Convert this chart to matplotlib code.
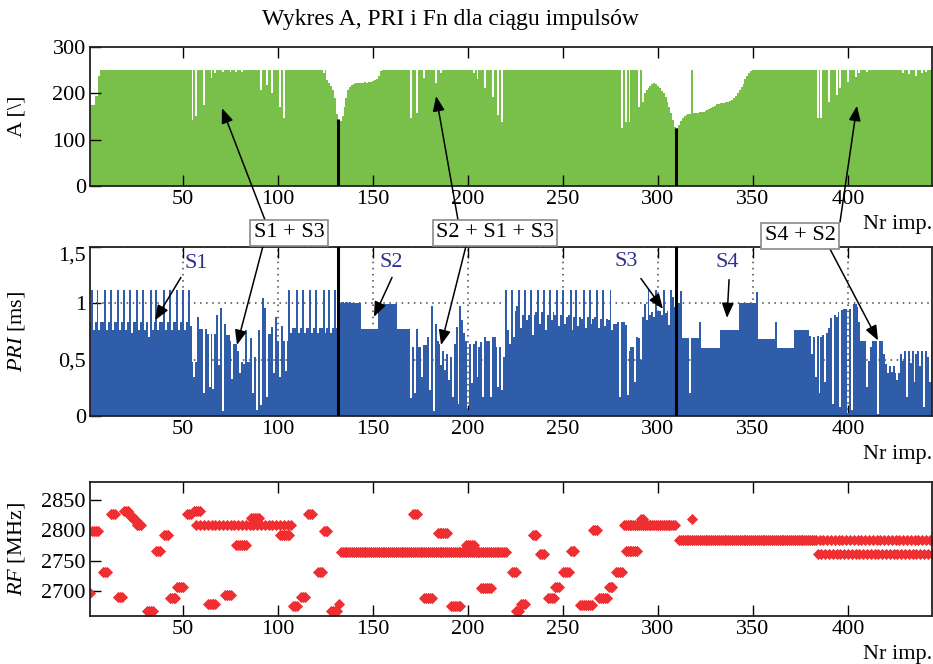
import numpy as np
import matplotlib
matplotlib.use('Agg')
import matplotlib.pyplot as plt

plt.rcParams['font.family'] = ['Liberation Serif', 'DejaVu Serif']
plt.rcParams['mathtext.fontset'] = 'custom'
plt.rcParams['mathtext.rm'] = 'Liberation Serif'
plt.rcParams['mathtext.it'] = 'Liberation Serif:italic'
plt.rcParams['font.size'] = 16

# ---------------- data ----------------
N_PULSES = 444
pulse = np.arange(1, N_PULSES + 1)

# amplitude: saturated level, shaped stretches and single-pulse dips
A_TOP = 251
amp_profiles = {
    1: [175, 175, 175, 195, 195, 238],
    126: [228, 222, 215, 207, 189, 155, 143, 140, 150, 171, 189, 207, 214, 218, 221,
          222, 223, 222, 223, 223, 224, 223, 225, 224, 226, 228, 232, 238, 248],
    281: [125, 251, 139, 251, 139, 251, 251, 251, 251, 171, 251, 182, 200, 207, 212,
          216, 220, 222, 221, 216, 212, 206, 200, 192, 182, 170, 158, 142, 127],
    310: [126, 131, 140, 147, 150, 153, 155, 156, 251, 157, 157, 158, 159, 160, 160,
          162, 164, 166, 168, 171, 173, 176, 178, 179, 180, 180, 181, 182, 184, 186,
          190, 195, 200, 207, 214, 221, 230, 238, 243, 248],
}
amp_dips = {55: 143, 57: 150, 61: 175, 65: 233, 67: 243, 71: 246, 75: 246, 78: 247,
            81: 246, 91: 207, 94: 218, 97: 200, 101: 171, 103: 146, 124: 243,
            170: 146, 173: 158, 177: 233, 183: 223, 186: 243, 203: 243, 205: 230,
            209: 211, 213: 193, 216: 153, 218: 139,
            384: 146, 386: 146, 390: 182, 394: 196, 396: 211, 400: 225, 404: 236,
            406: 243, 410: 245, 429: 244, 432: 242, 436: 238, 439: 244, 441: 246}

# PRI [ms], pulses 1-131, 132-309, 310-444
pri_seg1 = [
    0.83, 1.12, 0.76, 0.83, 1.12, 0.76, 0.83, 0.83, 1.12, 0.76,
    0.83, 1.12, 0.76, 0.83, 0.83, 1.12, 0.76, 0.83, 1.12, 0.76,
    0.83, 1.12, 0.74, 0.83, 0.83, 1.12, 0.76, 0.83, 1.12, 0.76,
    0.83, 0.70, 1.12, 0.76, 0.83, 1.12, 0.76, 0.83, 0.83, 1.12,
    0.76, 0.83, 1.12, 0.76, 0.83, 0.83, 1.12, 0.76, 0.83, 1.12,
    0.76, 0.83, 1.12, 0.80,
    0.48, 0.35, 0.48, 0.88, 0.77, 0.77, 0.20, 0.77, 0.73, 0.26,
    0.73, 0.24, 0.73, 0.90, 0.45, 0.96, 0.04, 0.82, 0.72, 0.72,
    0.67, 0.33, 0.64, 0.64, 0.58, 0.38, 0.48, 0.46, 0.76, 0.48,
    0.48, 0.69, 0.20, 0.52, 0.05, 0.76, 0.10, 1.05, 0.96, 0.17,
    0.73, 0.73, 0.79, 0.38, 0.88, 0.67, 0.35, 0.80, 0.67, 0.40,
    0.67,
    1.12, 0.74, 0.78, 0.78, 1.12, 0.74, 0.78, 1.12, 0.74, 0.78,
    0.78, 1.12, 0.74, 0.78, 1.12, 0.74, 0.78, 0.78, 1.12, 0.74,
    0.78, 1.12, 0.74, 0.78, 1.12, 0.78,
]
pri_seg2 = (
    [1.0, 1.0, 1.01, 1.0, 1.01, 1.0, 1.01, 1.0, 1.0, 1.0, 1.0, 1.0]
    + [0.77] * 9 + [0.99] * 10 + [0.77] * 7
    + [0.16, 0.61, 0.20, 0.77, 0.61, 0.61, 0.35, 0.63, 0.63, 0.70,
       0.23, 0.98, 0.04, 0.82, 0.67, 0.64, 0.45, 0.58, 0.41, 0.55,
       0.32, 0.52, 0.17, 0.64, 0.79, 0.11, 0.98, 0.85, 0.74, 0.67,
       0.05, 0.64, 0.29, 0.64, 0.67, 0.35, 0.61, 0.66, 0.17, 0.70,
       0.67, 0.67, 0.17, 0.70, 0.70, 0.61, 0.26, 0.61, 0.23, 0.52]
    + [1.12, 0.76, 0.64, 1.12, 0.70, 0.93, 0.98, 1.12, 0.78, 0.90,
       1.12, 0.85, 0.90, 1.12, 0.72, 0.90, 0.92, 1.12, 0.82, 0.92,
       1.12, 0.76, 0.90, 1.12, 0.85, 0.92, 0.90, 1.12, 0.80, 0.90,
       1.12, 0.82, 0.88, 0.90, 1.12, 0.76, 0.88, 1.12, 0.80, 0.88,
       0.86, 1.12, 0.78, 0.88, 1.12, 0.82, 0.86, 0.88, 1.12, 0.78,
       0.86, 1.12, 0.80, 0.86, 0.85, 1.12, 0.76]
    + [0.82, 0.82, 0.83, 0.17, 0.83, 0.83, 0.81, 0.19, 0.58, 0.61,
       0.61, 0.30, 0.70, 0.69, 0.50, 0.88, 0.99, 0.85, 1.12, 0.90,
       0.92, 0.88, 1.12, 0.93, 0.93, 0.90, 1.12, 0.91, 0.93, 0.81,
       1.12, 1.06, 0.97]
)
pri_seg3 = (
    [1.0, 1.0, 1.11] + [0.69] * 4 + [0.20] + [0.69] * 4 + [0.83]
    + [0.60] * 10 + [0.76] * 10 + [1.0] * 9 + [1.10] + [0.68] * 9 + [0.83]
    + [0.60] * 9 + [0.76] * 8
    + [0.71, 0.55, 0.70, 0.35, 0.71, 0.20, 0.70, 0.72, 0.30, 0.74,
       0.78, 0.87, 0.11, 0.90, 0.88, 0.92, 0.08, 0.94, 0.95, 0.95,
       0.03, 0.95, 0.05, 0.99, 0.99, 0.97, 0.83, 0.67, 0.67, 0.67,
       0.26, 0.49, 0.61, 0.67, 0.67, 0.67, 0.02, 0.67, 0.67, 0.55,
       0.46, 0.38, 0.44, 0.39, 0.44, 0.38, 0.32, 0.38, 0.55, 0.49,
       0.58, 0.17, 0.58, 0.47, 0.58, 0.30, 0.55, 0.58, 0.44, 0.58,
       0.08, 0.58, 0.52, 0.30, 0.67]
)

# RF runs: (first pulse, last pulse, step, MHz)
rf_runs = [
    (1, 1, 1, 2696), (2, 5, 1, 2799), (8, 10, 1, 2731), (12, 14, 1, 2826),
    (16, 18, 1, 2690), (19, 21, 1, 2831), (22, 23, 1, 2824), (24, 25, 1, 2817),
    (26, 28, 1, 2808), (31, 34, 1, 2667), (36, 38, 1, 2766), (40, 42, 1, 2792),
    (43, 46, 1, 2689), (47, 50, 1, 2706), (52, 54, 1, 2826), (56, 59, 1, 2831),
    (57, 107, 2, 2808), (63, 67, 1, 2678), (72, 75, 1, 2694), (78, 83, 1, 2775),
    (86, 90, 1, 2820), (101, 106, 1, 2792), (108, 110, 1, 2675), (112, 114, 1, 2690),
    (116, 118, 1, 2826), (121, 123, 1, 2731), (124, 126, 1, 2799), (128, 131, 1, 2667),
    (132, 132, 1, 2679), (133, 220, 1, 2764), (171, 173, 1, 2826), (177, 181, 1, 2689),
    (184, 189, 1, 2795), (191, 196, 1, 2675), (199, 203, 1, 2776), (207, 212, 1, 2705),
    (223, 225, 1, 2731), (225, 227, 1, 2668), (228, 230, 1, 2679), (234, 236, 1, 2792),
    (238, 240, 1, 2760), (242, 245, 1, 2689), (246, 248, 1, 2706), (250, 253, 1, 2731),
    (254, 256, 1, 2765), (259, 265, 1, 2677), (266, 268, 1, 2800), (269, 273, 1, 2689),
    (274, 276, 1, 2706), (278, 281, 1, 2731), (282, 309, 1, 2808), (283, 289, 1, 2766),
    (291, 292, 1, 2819), (318, 318, 1, 2819), (311, 382, 1, 2783), (383, 444, 2, 2783),
    (384, 444, 2, 2761),
]

# segment boundaries (pulse position, amplitude height of the marker line)
seg_bounds = [(131.5, 145), (309.5, 126)]

x_ticks = [50, 100, 150, 200, 250, 300, 350, 400]

# ---------------- build series ----------------
amp = np.full(N_PULSES, float(A_TOP))
for start, vals in amp_profiles.items():
    amp[start - 1:start - 1 + len(vals)] = vals
for i, v in amp_dips.items():
    amp[i - 1] = v

pri = np.array(pri_seg1 + pri_seg2 + pri_seg3)
assert len(pri) == N_PULSES, len(pri)

rf_x, rf_y = [], []
for a, b, s, f in rf_runs:
    xs = list(range(a, b + 1, s))
    rf_x += xs
    rf_y += [f] * len(xs)

GREEN = '#79c04b'
BLUE = '#2f5da9'
RED = '#ee2e31'
LBLUE = '#2e3192'
SPINE = '#222222'

W, H = 933, 664
fig = plt.figure(figsize=(W / 100, H / 100), dpi=100)


def box(top, bottom, left=90, right=932):
    return [left / W, 1 - bottom / H, (right - left) / W, (bottom - top) / H]


def fp(x, y):
    return (x / W, 1 - y / H)


ax1 = fig.add_axes(box(47, 186))
ax2 = fig.add_axes(box(247, 416))
ax3 = fig.add_axes(box(482, 616))

edges = np.arange(0.5, N_PULSES + 1)
ax1.stairs(amp, edges, fill=True, color=GREEN, lw=0)
for xb, hb in seg_bounds:
    ax1.vlines(xb, 0, hb, color='k', lw=2.2, zorder=3)
ax1.set_ylim(0, 300)
ax1.set_yticks([0, 100, 200, 300])
ax1.set_ylabel('A [\\]')

ax2.set_axisbelow(True)
ax2.stairs(pri, edges, fill=True, color=BLUE, lw=0, zorder=2)
ax2.grid(True, linestyle=(0, (1, 3)), color='#444444', lw=1.1, zorder=1)
for xb, hb in seg_bounds:
    ax2.axvline(xb, color='k', lw=2.2, zorder=3)
ax2.set_ylim(0, 1.5)
ax2.set_yticks([0, 0.5, 1, 1.5])
ax2.set_yticklabels(['0', '0,5', '1', '1,5'])
ax2.get_yticklabels()[-1].set_va('top')
ax2.set_ylabel('$PRI$ [ms]')

ax3.plot(rf_x, rf_y, linestyle='none', marker='D', ms=4.6, color=RED, mec=RED, mew=0.6)
ax3.set_ylim(2659, 2879)
ax3.set_yticks([2700, 2750, 2800, 2850])
ax3.set_ylabel('$RF$ [MHz]')

for ax in (ax1, ax2, ax3):
    ax.set_xlim(1.05, 444.2)
    ax.set_xticks(x_ticks)
    ax.tick_params(direction='in', length=8, width=1, top=True, pad=3, labelsize=16)
    ax.set_xlabel('Nr imp.', loc='right', labelpad=4)
    ax.yaxis.set_label_coords(-0.075, 0.5)
    for sp in ax.spines.values():
        sp.set_color(SPINE)
        sp.set_linewidth(1.3)

fig.text(*fp(450, 19), 'Wykres A, PRI i Fn dla ciągu impulsów', ha='center', va='center',
         fontsize=17)

arrow = dict(arrowstyle='-|>,head_length=0.75,head_width=0.3', color='k', lw=1.1,
             shrinkA=0, shrinkB=0, mutation_scale=12)

# composite-signal boxes with arrows into the A and PRI panels
boxes = [
    ('S1 + S3', (289, 233), (265, 220), (70.5, 168), (263, 246), (78.4, 0.63)),
    ('S2 + S1 + S3', (495, 233), (458, 220), (183.2, 194), (466, 246), (185.8, 0.63)),
    ('S4 + S2', (800, 236), (840, 222), (404.7, 173), (830, 249), (415.8, 0.67)),
]
for txt, c, s_up, t_up, s_dn, t_dn in boxes:
    ax1.annotate('', xy=t_up, xycoords='data', xytext=fp(*s_up), textcoords='figure fraction',
                 arrowprops=arrow, annotation_clip=False)
    ax2.annotate('', xy=t_dn, xycoords='data', xytext=fp(*s_dn), textcoords='figure fraction',
                 arrowprops=arrow, annotation_clip=False)
    fig.text(*fp(*c), txt, ha='center', va='center', fontsize=16, zorder=10,
             bbox=dict(boxstyle='square,pad=0.15', fc='white', ec='#8a8a8a', lw=1.2))

# single-signal labels in the PRI panel
labels = [
    ('S1', (56.8, 1.35), (48.9, 1.23), (35.3, 0.85)),
    ('S2', (159.5, 1.36), (160.0, 1.23), (150.5, 0.88)),
    ('S3', (283.2, 1.37), (291.0, 1.22), (302.6, 0.95)),
    ('S4', (336.3, 1.36), (337.4, 1.21), (336.3, 0.87)),
]
for txt, pos, s, t in labels:
    ax2.text(*pos, txt, color=LBLUE, ha='center', va='center', fontsize=16, zorder=5)
    ax2.annotate('', xy=t, xytext=s, arrowprops=arrow, zorder=5)

fig.savefig('out.png', dpi=100)
